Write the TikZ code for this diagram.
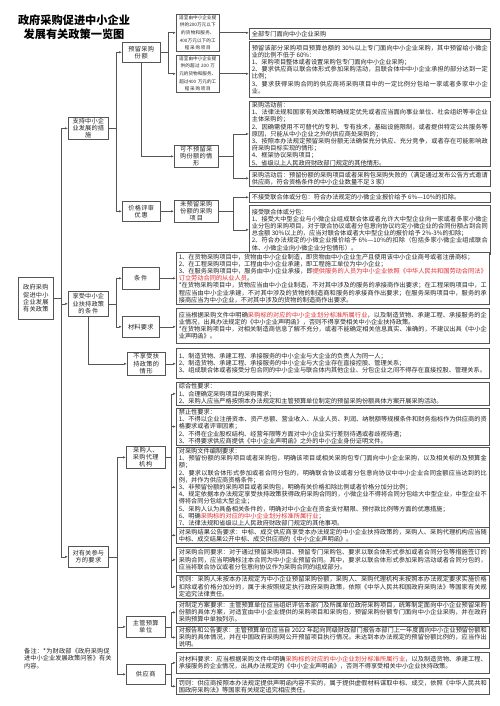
\documentclass[tikz,border=0pt]{standalone}
\usepackage{fontspec}
\setmainfont{Noto Sans CJK SC}
\XeTeXlinebreaklocale "zh"
\XeTeXlinebreakskip=0pt plus 1pt
\usetikzlibrary{arrows.meta}
\definecolor{linec}{RGB}{85,85,85}
\definecolor{txtc}{RGB}{35,35,35}
\definecolor{redtxt}{RGB}{225,45,45}
\tikzset{
  box/.style={draw=linec,line width=0.6pt,fill=white,inner xsep=2.5pt,inner ysep=1pt,
    font=\fontsize{6.2pt}{7.2pt}\selectfont,text=txtc,anchor=north west},
  para/.style={box,align=justify},
  lbl/.style={box,align=center},
  small/.style={font=\fontsize{4.6pt}{7.6pt}\selectfont},
  conn/.style={draw=linec,line width=0.6pt,-{Latex[length=3pt,width=2.4pt]}},
}
\newcommand{\rd}[1]{\textcolor{redtxt}{#1}}
\newcommand{\bx}[7][para]{%
  \pgfmathsetlengthmacro\bxw{#5-#3}%
  \pgfmathsetlengthmacro\bxh{#6-#4}%
  \pgfmathsetlengthmacro\bxt{#5-#3-5}%
  \node[#1,minimum width=\bxw,minimum height=\bxh,text width=\bxt] (#2) at (#3,#4) {#7};}
\begin{document}
\begin{tikzpicture}[x=1pt,y=-1pt]
\fill[white] (0,0) rectangle (500,706);
\useasboundingbox (0,0) rectangle (500,706);

\node[font=\fontsize{11.2pt}{14.5pt}\selectfont\bfseries,align=center,text=black,inner sep=0pt] (title) at (74,27) {政府采购促进中小企业\\发展有关政策一览图};

% level 0 / 1
\bx[lbl]{root}{18}{277}{53}{319}{政府采购\\促进中小\\企业发展\\有关政策}
\bx[lbl]{zhichi}{68}{117}{108}{139}{支持中小企\\业发展的措\\施}
\bx[lbl]{xiangshou}{68}{291}{108}{316}{享受中小企\\业扶持政策\\的条件}
\bx[lbl]{duiyou}{68}{546}{108}{567}{对有关参与\\方的要求}

% level 2
\bx[lbl]{yuliu}{122}{42}{160}{62}{预留采购\\份额}
\bx[lbl]{jiage}{122}{201}{160}{221}{价格评审\\优惠}
\bx[lbl,small]{shiyi1}{176}{14}{219}{51}{适宜由中小企业提\\供的200万元以下\\的货物和服务、\\400万元以下的工\\程采购项目}
\bx[lbl,small]{shiyi2}{176}{55}{219}{92}{适宜由中小企业提\\供的超过 200 万\\元的货物和服务、\\超过400 万元的工\\程采购项目}
\bx[lbl]{kebu}{174}{145}{218}{165}{可不预留采\\购份额的情\\形}
\bx[lbl]{weiyuliu}{174}{200}{218}{222}{未预留采购\\份额的采购\\项目}
\bx[lbl]{tiaojian}{122}{267}{159}{289}{条件}
\bx[lbl]{cailiao}{122}{316}{159}{337}{材料要求}
\bx[lbl]{buxiang}{127}{352}{165}{375}{不享受扶\\持政策的\\情形}
\bx[lbl]{caigouren}{126}{446}{165}{467}{采购人、\\采购代理\\机构}
\bx[lbl]{zhuguan}{126}{616}{165}{637}{主管预算\\单位}
\bx[lbl]{gongying}{126}{664}{165}{684}{供应商}

% right column, upper part
\bx{r1}{249}{28}{490}{39}{全部专门面向中小企业采购}
\bx{r2}{249}{41}{490}{97}{预留该部分采购项目预算总额的 30\%以上专门面向中小企业采购，其中预留给小微企业的比例不低于 60\%：\par
1、采购项目整体或者设置采购包专门面向中小企业采购；\par
2、要求供应商以联合体形式参加采购活动，且联合体中中小企业承担的部分达到一定比例；\par
3、要求获得采购合同的供应商将采购项目中的一定比例分包给一家或者多家中小企业。}
\bx{r3}{249}{101}{490}{166}{采购活动前：\par
1、法律法规和国家有关政策明确规定优先或者应当面向事业单位、社会组织等非企业主体采购的；\par
2、因确需使用不可替代的专利、专有技术，基础设施限制，或者提供特定公共服务等原因，只能从中小企业之外的供应商处采购的；\par
3、按照本办法规定预留采购份额无法确保充分供应、充分竞争，或者存在可能影响政府采购目标实现的情形；\par
4、框架协议采购项目；\par
5、省级以上人民政府财政部门规定的其他情形。}
\bx{r4}{249}{170}{490}{186}{采购活动后：预留份额的采购项目或者采购包采购失败的（满足通过发布公告方式邀请供应商，符合资格条件的中小企业数量不足 3 家）}
\bx{r5}{249}{192}{490}{202}{不接受联合体或分包：符合办法规定的小微企业报价给予 6\%—10\%的扣除。}
\bx{r6}{249}{205}{490}{254}{接受联合体或分包：\par
1、接受大中型企业与小微企业组成联合体或者允许大中型企业向一家或者多家小微企业分包的采购项目，对于联合协议或者分包意向协议约定小微企业的合同份额占到合同总金额 30\%以上的，应当对联合体或者大中型企业的报价给予 2\%-3\%的扣除；\par
2、符合办法规定的小微企业报价给予 6\%—10\%的扣除（包括多家小微企业组成联合体、小微企业向小微企业分包情形）。}

% right column, middle
\bx{r7}{176}{252}{489}{304}{1、在货物采购项目中，货物由中小企业制造，即货物由中小企业生产且使用该中小企业商号或者注册商标；\par
2、在工程采购项目中，工程由中小企业承建，即工程施工单位为中小企业；\par
3、在服务采购项目中，服务由中小企业承接，即\rd{提供服务的人员为中小企业依照《中华人民共和国劳动合同法》订立劳动合同的从业人员}。\par
*在货物采购项目中，货物应当由中小企业制造，不对其中涉及的服务的承接商作出要求；在工程采购项目中，工程应当由中小企业承建，不对其中涉及的货物的制造商和服务的承接商作出要求；在服务采购项目中，服务的承接商应当为中小企业，不对其中涉及的货物的制造商作出要求。}
\bx{r8}{176}{308}{489}{343}{应当根据采购文件中明确\rd{采购标的对应的中小企业划分标准所属行业}，以及制造货物、承建工程、承接服务的企业情况，出具办法规定的《中小企业声明函》，否则不得享受相关中小企业扶持政策。\par
*在货物采购项目中，对相关制造商信息了解不充分，或者不能确定相关信息真实、准确的，不建议出具《中小企业声明函》。}
\bx{r9}{176}{348}{489}{378}{1、制造货物、承建工程、承接服务的中小企业与大企业的负责人为同一人；\par
2、制造货物、承建工程、承接服务的中小企业与大企业存在直接控股、管理关系；\par
3、组成联合体或者接受分包合同的中小企业与联合体内其他企业、分包企业之间不得存在直接控股、管理关系。}

% right column, lower
\bx{r10}{176}{382}{489}{405}{综合性要求：\par
1、合理确定采购项目的采购需求；\par
2、采购人应当严格按照本办法规定和主管预算单位制定的预留采购份额具体方案开展采购活动。}
\bx{r11}{176}{408}{489}{444}{禁止性要求：\par
1、不得以企业注册资本、资产总额、营业收入、从业人员、利润、纳税额等规模条件和财务指标作为供应商的资格要求或者评审因素；\par
2、不得在企业股权结构、经营年限等方面对中小企业实行差别待遇或者歧视待遇；\par
3、不得要求供应商提供《中小企业声明函》之外的中小企业身份证明文件。}
\bx{r12}{176}{447}{489}{525}{对采购文件编制要求：\par
1、预留份额的采购项目或者采购包，明确该项目或相关采购包专门面向中小企业采购，以及相关标的及预算金额；\par
2、要求以联合体形式参加或者合同分包的，明确联合协议或者分包意向协议中中小企业合同金额应当达到的比例，并作为供应商资格条件；\par
3、非预留份额的采购项目或者采购包，明确有关价格扣除比例或者价格分加分比例；\par
4、规定依据本办法规定享受扶持政策获得政府采购合同的，小微企业不得将合同分包给大中型企业，中型企业不得将合同分包给大型企业；\par
5、采购人认为具备相关条件的，明确对中小企业在资金支付期限、预付款比例等方面的优惠措施；\par
6、明确\rd{采购标的对应的中小企业划分标准所属行业}；\par
7、法律法规和省级以上人民政府财政部门规定的其他事项。}
\bx{r13}{176}{527}{489}{543}{对采购结果公告要求：中标、成交供应商享受本办法规定的中小企业扶持政策的，采购人、采购代理机构应当随中标、成交结果公开中标、成交供应商的《中小企业声明函》。}
\bx{r14}{176}{547}{489}{572}{对采购合同要求：对于通过预留采购项目、预留专门采购包、要求以联合体形式参加或者合同分包等措施签订的采购合同，应当明确标注本合同为中小企业预留合同。其中，要求以联合体形式参加采购活动或者合同分包的，应当将联合协议或者分包意向协议作为采购合同的组成部分。}
\bx{r15}{176}{575}{489}{598}{罚则：采购人未按本办法规定为中小企业预留采购份额，采购人、采购代理机构未按照本办法规定要求实施价格扣除或者价格分加分的，属于未按照规定执行政府采购政策，依照《中华人民共和国政府采购法》等国家有关规定追究法律责任。}
\bx{r16}{176}{601}{489}{623}{对制定方案要求：主管预算单位应当组织评估本部门及所属单位政府采购项目，统筹制定面向中小企业预留采购份额的具体方案，对适宜由中小企业提供的采购项目和采购包，预留采购份额专门面向中小企业采购，并在政府采购预算中单独列示。}
\bx{r17}{176}{626}{489}{648}{对报告和公告要求：主管预算单位应当自 2022 年起向同级财政部门报告本部门上一年度面向中小企业预留份额和采购的具体情况，并在中国政府采购网公开预留项目执行情况。未达到本办法规定的预留份额比例的，应当作出说明。}
\bx{r18}{176}{652}{489}{673}{对材料要求：应当根据采购文件中明确\rd{采购标的对应的中小企业划分标准所属行业}，以及制造货物、承建工程、承接服务的企业情况，出具办法规定的《中小企业声明函》，否则不得享受相关中小企业扶持政策。}
\bx{r19}{176}{678}{489}{694}{罚则：供应商按照本办法规定提供声明函内容不实的，属于提供虚假材料谋取中标、成交，依照《中华人民共和国政府采购法》等国家有关规定追究相应责任。}

\node[anchor=north west,text width=88pt,align=left,inner sep=0pt,font=\fontsize{6.2pt}{7.4pt}\selectfont,text=txtc] (note) at (24,648) {备注：*为财政部《政府采购促进中小企业发展政策问答》有关内容。};

% connectors
\draw[conn] (root.east) -- ++(8,0) |- (zhichi.west);
\draw[conn] (root.east) -- ++(8,0) |- (xiangshou.west);
\draw[conn] (root.east) -- ++(8,0) |- (duiyou.west);

\draw[conn] (zhichi.east) -- ++(8,0) |- (yuliu.west);
\draw[conn] (zhichi.east) -- ++(8,0) |- (jiage.west);
\draw[conn] (yuliu.east) -- ++(8,0) |- (shiyi1.west);
\draw[conn] (yuliu.east) -- ++(8,0) |- (shiyi2.west);
\draw[conn] (yuliu.south) |- (kebu.west);
\draw[conn] (shiyi1.east) -- (shiyi1.east -| r1.west);
\draw[conn] (shiyi2.east) -- (shiyi2.east -| r2.west);
\draw[conn] (kebu.east) -- ++(15,0) |- (r3.west);
\draw[conn] (kebu.east) -- ++(15,0) |- (r4.west);
\draw[conn] (jiage.east) -- (jiage.east -| weiyuliu.west);
\draw[conn] (weiyuliu.east) -- ++(15,0) |- (r5.west);
\draw[conn] (weiyuliu.east) -- ++(15,0) |- (r6.west);

\draw[conn] (xiangshou.east) -- ++(8,0) |- (tiaojian.west);
\draw[conn] (xiangshou.east) -- ++(8,0) |- (cailiao.west);
\draw[conn] (xiangshou.south) |- (buxiang.west);
\draw[conn] (tiaojian.east) -- (tiaojian.east -| r7.west);
\draw[conn] (cailiao.east) -- (cailiao.east -| r8.west);
\draw[conn] (buxiang.east) -- (buxiang.east -| r9.west);

\draw[conn] (duiyou.east) -- ++(9,0) |- (caigouren.west);
\draw[conn] (duiyou.east) -- ++(9,0) |- (zhuguan.west);
\draw[conn] (duiyou.east) -- ++(9,0) |- (gongying.west);
\foreach \r in {r10,r11,r12,r13,r14,r15}{
  \draw[conn] (caigouren.east) -- ++(6,0) |- (\r.west);
}
\draw[conn] (zhuguan.east) -- ++(6,0) |- (r16.west);
\draw[conn] (zhuguan.east) -- ++(6,0) |- (r17.west);
\draw[conn] (gongying.east) -- ++(6,0) |- (r18.west);
\draw[conn] (gongying.east) -- ++(6,0) |- (r19.west);
\end{tikzpicture}
\end{document}
